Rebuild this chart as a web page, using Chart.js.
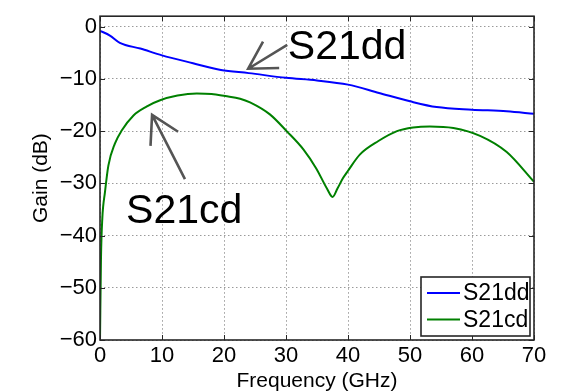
<!DOCTYPE html>
<html>
<head>
<meta charset="utf-8">
<script src="https://cdn.jsdelivr.net/npm/chart.js@4/dist/chart.umd.min.js"></script>
<style>
	html, body { margin: 0; padding: 0; background: #fff; }
	#wrap { width: 576px; height: 392px; }
</style>
</head>
<body>
<div id="wrap"><canvas id="gainChart"></canvas></div>
<script>
	// Differential insertion gain (blue)
	const ddFreq = [0, 1.6, 3.2, 6.5, 10, 15, 19.5, 24, 30, 35, 40, 45, 50, 54.3, 60, 65.6, 70];
	const ddGain = [-0.8, -1.7, -3.1, -4.2, -5.5, -7.0, -8.3, -8.9, -9.8, -10.3, -11.1, -12.7, -14.3, -15.4, -15.9, -16.2, -16.7];

	// Mode conversion gain (green)
	const cdFreq = [0, 0.16, 0.37, 0.8, 1.35, 2.4, 3.5, 5.4, 7.5, 9.7, 12.5, 15.6, 18, 20.2, 22.6, 24.2, 27.4, 30.1, 32.8, 34.9, 36.6, 37.5, 38.3, 39.2, 40, 41.9, 44.9, 47.9, 50.5, 53.2, 57, 61.3, 65.6, 70];
	const cdGain = [-60, -44.3, -36.8, -31.7, -26.6, -22.4, -19.9, -17.0, -15.3, -14.1, -13.2, -12.8, -12.9, -13.3, -13.8, -14.5, -16.8, -20.0, -23.5, -27.2, -31.0, -32.6, -31.0, -29.0, -27.6, -24.5, -21.9, -20.0, -19.3, -19.1, -19.4, -20.9, -24.0, -29.7];

	const seriesNames = ["S21dd", "S21cd"];
	const xTicks = [0, 10, 20, 30, 40, 50, 60, 70];
	const yTicks = [-60, -50, -40, -30, -20, -10, 0];

	const FONT = "'Liberation Sans', Arial, Helvetica, sans-serif";
	const AXIS_COLOR = "#262626";

	// callouts: label + arrow, in data units
	const callouts = [
		{ text: "S21dd", at: [30.3, -6.2], tail: [30.2, -3.5], tip: [23.9, -8.06] },
		{ text: "S21cd", at: [4.2, -37.6], tail: [13.7, -29.2], tip: [8.4, -16.9] }
	];

	const toPoints = (xs, ys) => xs.map((x, i) => ({ x: x, y: ys[i] }));
	const fmtMinus = v => (v < 0 ? "\u2212" + Math.abs(v) : String(v));

	// Box round the axes with ticks pointing inwards on all four sides
	const framePlugin = {
		id: "frame",
		afterDatasetsDraw(chart) {
			const { ctx, chartArea: a, scales } = chart;
			const len = 5;
			ctx.save();
			ctx.strokeStyle = AXIS_COLOR;
			ctx.lineWidth = 1;
			ctx.beginPath();
			scales.x.ticks.forEach(t => {
				const px = Math.round(scales.x.getPixelForValue(t.value)) + 0.5;
				ctx.moveTo(px, a.bottom); ctx.lineTo(px, a.bottom - len);
				ctx.moveTo(px, a.top); ctx.lineTo(px, a.top + len);
			});
			scales.y.ticks.forEach(t => {
				const py = Math.round(scales.y.getPixelForValue(t.value)) + 0.5;
				ctx.moveTo(a.left, py); ctx.lineTo(a.left + len, py);
				ctx.moveTo(a.right, py); ctx.lineTo(a.right - len, py);
			});
			ctx.stroke();
			ctx.lineWidth = 1.6;
			ctx.strokeRect(a.left, a.top, a.right - a.left, a.bottom - a.top);
			ctx.restore();
		}
	};

	// Big labels with arrows pointing at the curves
	const calloutPlugin = {
		id: "callouts",
		afterDatasetsDraw(chart) {
			const { ctx, scales } = chart;
			const px = p => [scales.x.getPixelForValue(p[0]), scales.y.getPixelForValue(p[1])];
			ctx.save();
			callouts.forEach(c => {
				const [tx, ty] = px(c.tail);
				const [hx, hy] = px(c.tip);
				const ang = Math.atan2(ty - hy, tx - hx);
				const head = 31, spread = Math.PI / 6;
				ctx.strokeStyle = "#555";
				ctx.lineWidth = 2.6;
				ctx.lineCap = "butt";
				ctx.beginPath();
				ctx.moveTo(tx, ty); ctx.lineTo(hx, hy);
				ctx.moveTo(hx + head * Math.cos(ang - spread), hy + head * Math.sin(ang - spread));
				ctx.lineTo(hx, hy);
				ctx.lineTo(hx + head * Math.cos(ang + spread), hy + head * Math.sin(ang + spread));
				ctx.stroke();

				const [lx, ly] = px(c.at);
				ctx.fillStyle = "#000";
				ctx.font = "41px " + FONT;
				ctx.textAlign = "left";
				ctx.textBaseline = "alphabetic";
				ctx.fillText(c.text, lx, ly);
			});
			ctx.restore();
		}
	};

	// Boxed legend in the lower right corner of the axes
	const boxLegendPlugin = {
		id: "boxLegend",
		afterDraw(chart) {
			const { ctx, chartArea: a } = chart;
			const w = 109, h = 59, rowH = 26.6;
			const left = a.right - 4 - w, top = a.bottom - 4 - h;
			ctx.save();
			ctx.fillStyle = "#fff";
			ctx.fillRect(left, top, w, h);
			ctx.font = "23px " + FONT;
			ctx.textBaseline = "middle";
			ctx.textAlign = "left";
			chart.data.datasets.forEach((ds, i) => {
				const y = top + 16 + i * rowH;
				ctx.strokeStyle = ds.borderColor;
				ctx.lineWidth = 2;
				ctx.beginPath();
				ctx.moveTo(left + 6, y); ctx.lineTo(left + 39, y);
				ctx.stroke();
				ctx.fillStyle = "#000";
				ctx.fillText(ds.label, left + 42, y + 1);
			});
			ctx.strokeStyle = AXIS_COLOR;
			ctx.lineWidth = 1.6;
			ctx.strokeRect(left, top, w, h);
			ctx.restore();
		}
	};

	const gridStyle = { color: "#9a9a9a", lineWidth: 1, drawTicks: false };
	const borderStyle = { display: false, dash: [1.5, 2.5] };

	new Chart(document.getElementById("gainChart"), {
		type: "line",
		data: {
			datasets: [
				{ label: seriesNames[0], data: toPoints(ddFreq, ddGain), borderColor: "#0000ff" },
				{ label: seriesNames[1], data: toPoints(cdFreq, cdGain), borderColor: "#008000" }
			]
		},
		options: {
			responsive: true,
			maintainAspectRatio: false,
			animation: false,
			events: [],
			layout: { padding: { left: 0, right: 42, top: 12, bottom: 0 } },
			elements: {
				point: { radius: 0 },
				line: { borderWidth: 2, cubicInterpolationMode: "monotone" }
			},
			plugins: {
				legend: { display: false },
				tooltip: { enabled: false }
			},
			scales: {
				x: {
					type: "linear",
					min: 0,
					max: 70,
					afterBuildTicks: s => { s.ticks = xTicks.map(v => ({ value: v })); },
					afterFit: s => { s.height = 52; },
					grid: gridStyle,
					border: borderStyle,
					ticks: {
						padding: 3,
						color: "#000",
						font: { family: FONT, size: 22 },
						maxRotation: 0,
						callback: v => fmtMinus(v)
					},
					title: {
						display: true,
						text: "Frequency (GHz)",
						color: "#000",
						font: { family: FONT, size: 21, lineHeight: 1 },
						padding: { top: 0, bottom: 0 }
					}
				},
				y: {
					type: "linear",
					min: -60,
					max: 2,
					afterBuildTicks: s => { s.ticks = yTicks.map(v => ({ value: v })); },
					afterFit: s => { s.width = 100; },
					grid: gridStyle,
					border: borderStyle,
					ticks: {
						padding: 3,
						color: "#000",
						font: { family: FONT, size: 22 },
						callback: v => fmtMinus(v)
					},
					title: {
						display: true,
						text: "Gain (dB)",
						color: "#000",
						font: { family: FONT, size: 21, lineHeight: 1 },
						padding: { top: 31, bottom: 0 }
					}
				}
			}
		},
		plugins: [framePlugin, calloutPlugin, boxLegendPlugin]
	});
</script>
</body>
</html>
